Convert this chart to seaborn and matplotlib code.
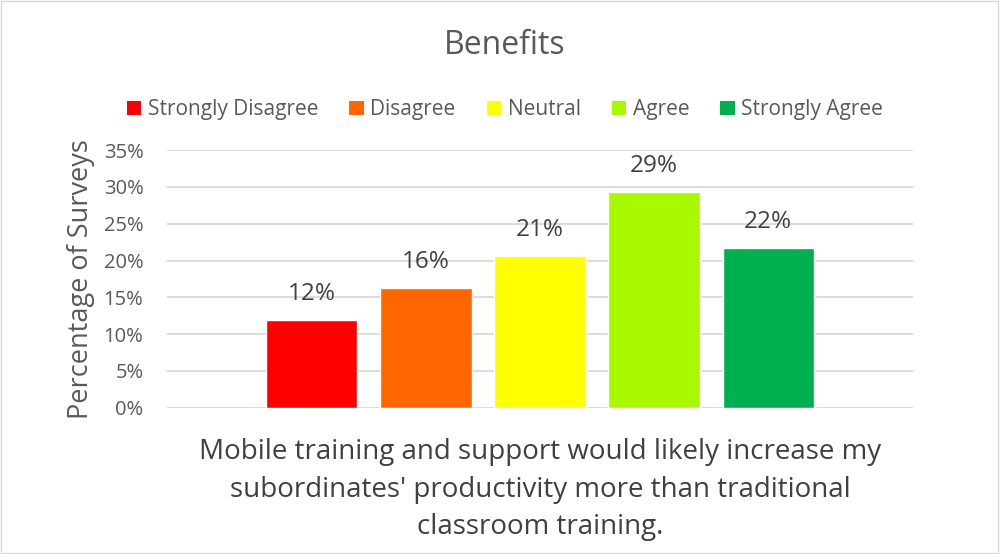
import matplotlib
matplotlib.use("Agg")
import matplotlib.pyplot as plt
from matplotlib.patches import Patch, Rectangle
import seaborn as sns
import pandas as pd

# dados
categorias = ['Strongly Disagree', 'Disagree', 'Neutral', 'Agree', 'Strongly Agree']
percentuais = [11.9, 16.3, 20.6, 29.3, 21.7]
rotulos = ['12%', '16%', '21%', '29%', '22%']
cores = ['#FF0000', '#FF6600', '#FFFF00', '#A8F800', '#00B050']
yticks = [0, 5, 10, 15, 20, 25, 30, 35]

df = pd.DataFrame({'categoria': categorias, 'valor': percentuais})

sns.set_theme(style="white")
plt.rcParams['font.family'] = ['Open Sans', 'DejaVu Sans']
cinza = '#595959'

fig = plt.figure(figsize=(10, 5.54), dpi=100)
ax = fig.add_axes([0.167, 0.264, 0.746, 0.465])

sns.barplot(data=df, x='categoria', y='valor', hue='categoria',
            palette=cores, order=categorias, hue_order=categorias,
            width=0.8, dodge=False, legend=False, ax=ax, saturation=1)

# rotulos dos dados
for cont, txt in zip(ax.containers, rotulos):
    ax.bar_label(cont, labels=[txt], padding=10, fontsize=17.5, color='#404040')

ax.set_ylim(0, 35)
ax.set_xlim(-1.27, 5.27)
ax.set_yticks(yticks)
ax.set_yticklabels([f'{v}%' for v in yticks], fontsize=14.5, color=cinza)
ax.set_xticks([])
ax.tick_params(axis='y', length=0, pad=17)
ax.grid(axis='y', color='#D9D9D9', linewidth=1.3)
ax.set_axisbelow(True)
for s in ax.spines.values():
    s.set_visible(False)

ax.set_ylabel('Percentage of Surveys', fontsize=19.5, color=cinza, labelpad=6)
ax.set_xlabel("Mobile training and support would likely increase my\n"
              "subordinates' productivity more than traditional\n"
              "classroom training.", fontsize=20, color='#404040',
              labelpad=22, linespacing=1.45)

# titulo e legenda
fig.text(0.505, 0.918, 'Benefits', ha='center', va='center',
         fontsize=23, color=cinza)
handles = [Patch(facecolor=c, edgecolor='none') for c in cores]
fig.legend(handles, categorias, loc='center', ncol=5,
           bbox_to_anchor=(0.505, 0.802), frameon=False, fontsize=15,
           handlelength=0.7, handleheight=0.7, handletextpad=0.3,
           columnspacing=1.5, labelcolor=cinza)

# borda da figura
fig.patches.append(Rectangle((0.001, 0.002), 0.997, 0.996, transform=fig.transFigure,
                             fill=False, edgecolor='#D9D9D9', linewidth=1))

fig.savefig('out.png', dpi=100)
